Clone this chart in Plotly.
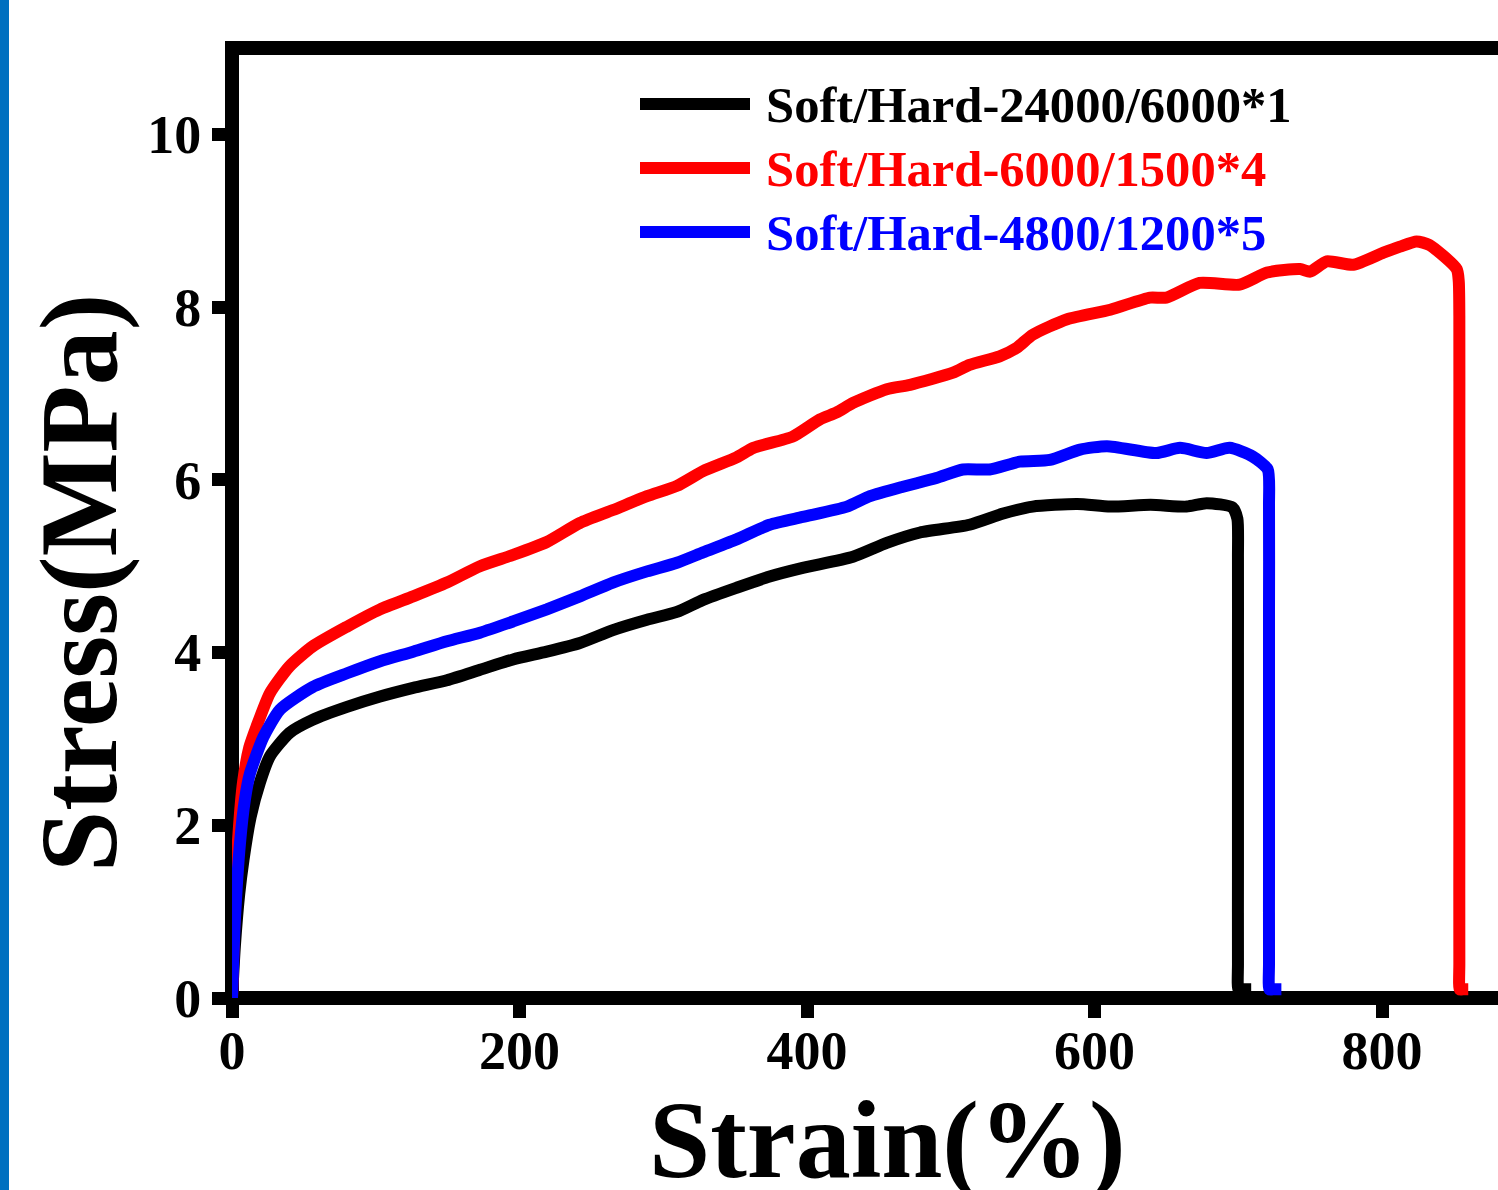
import plotly.graph_objects as go

# Tensile curves: strain (%) vs. stress (MPa)
strain_a = [0, 2, 5, 8, 13, 19.5, 26.4, 40, 56, 80, 103, 126, 149.5, 172.5, 195.5,
            219, 242, 265, 288.7, 309.5, 327.7, 351, 374, 397, 432, 455.5, 478.6,
            513, 536.5, 557, 588, 611, 639, 664, 678, 696, 699.4, 699.8, 699.8,
            699.8, 699.8, 700.1, 702, 709]
stress_a = [0, 0.6, 1.2, 1.6, 2.1, 2.5, 2.8, 3.07, 3.22, 3.37, 3.49, 3.59, 3.68,
            3.8, 3.92, 4.01, 4.11, 4.26, 4.38, 4.47, 4.61, 4.75, 4.88, 4.98, 5.11,
            5.27, 5.39, 5.48, 5.61, 5.69, 5.72, 5.69, 5.71, 5.69, 5.73, 5.68, 5.55,
            5.1, 4.0, 1.5, 0.4, 0.1, 0.1, 0.1]

strain_b = [0, 2, 4.5, 7.7, 12, 17, 26.4, 40, 56, 80, 103, 126, 149.5, 172.5, 195.5,
            219, 242, 265, 288.7, 309.5, 327.7, 351, 362.7, 390, 409, 420.6, 432,
            455.5, 471.7, 501.6, 513, 534, 546, 557, 581, 611, 638.6, 650, 673, 701,
            720, 743, 750, 761.6, 780, 801, 812.5, 824, 833, 852, 853.4, 853.8,
            853.8, 853.8, 853.8, 854.1, 856, 860]
stress_b = [0, 1.1, 1.9, 2.5, 2.9, 3.14, 3.53, 3.84, 4.07, 4.3, 4.5, 4.65, 4.81, 5.0,
            5.13, 5.28, 5.5, 5.65, 5.81, 5.93, 6.1, 6.26, 6.37, 6.5, 6.7, 6.78, 6.89,
            7.05, 7.1, 7.24, 7.33, 7.43, 7.53, 7.68, 7.86, 7.97, 8.11, 8.11, 8.28,
            8.26, 8.4, 8.44, 8.41, 8.53, 8.49, 8.63, 8.7, 8.76, 8.72, 8.44, 8.3,
            7.9, 6.5, 2.0, 0.4, 0.1, 0.1, 0.1]

strain_c = [0, 2, 5.6, 9, 12.5, 21.8, 33.4, 56, 80, 103, 126, 149.5, 172.5, 195.5,
            219, 242, 265, 288.7, 309.5, 327.7, 351, 374, 397, 427.8, 443.8, 466.8,
            490, 508.5, 527, 548, 569, 590, 608.7, 643, 659.5, 678, 694, 710, 720.5,
            721.4, 721.4, 721.4, 721.4, 721.7, 724, 730]
stress_c = [0, 0.9, 1.8, 2.3, 2.6, 3.02, 3.34, 3.6, 3.76, 3.9, 4.01, 4.13, 4.23,
            4.36, 4.5, 4.65, 4.81, 4.94, 5.04, 5.16, 5.31, 5.48, 5.57, 5.69, 5.81,
            5.92, 6.02, 6.12, 6.12, 6.21, 6.23, 6.35, 6.39, 6.31, 6.37, 6.31, 6.37,
            6.27, 6.12, 5.7, 4.5, 1.5, 0.4, 0.1, 0.1, 0.1]

series_names = ["Soft/Hard-24000/6000*1", "Soft/Hard-6000/1500*4", "Soft/Hard-4800/1200*5"]
series_colors = ["#000000", "#FF0000", "#0000FF"]

x_ticks = [0, 200, 400, 600, 800]
y_ticks = [0, 2, 4, 6, 8, 10]

FONT = "Liberation Serif"
W, H = 1498, 1190
ML, MR, MT, MB = 232, 0, 48, 192
PW, PH = W - ML - MR, H - MT - MB


def px_x(p):
    return (p - ML) / PW


def px_y(p):
    return (H - MB - p) / PH


fig = go.Figure()
for xs, ys, name, col in zip([strain_a, strain_b, strain_c],
                             [stress_a, stress_b, stress_c],
                             series_names, series_colors):
    fig.add_trace(go.Scatter(x=xs, y=ys, mode="lines", name=name,
                             line=dict(color=col, width=12, shape="spline",
                                       smoothing=0.6),
                             showlegend=False))

lw = 14
hx = (lw / 2) / PW
hy = (lw / 2) / PH
shapes = [
    # frame: left, bottom, top
    dict(type="line", xref="paper", yref="paper", x0=0, x1=0, y0=-hy, y1=1 + hy,
         line=dict(color="black", width=lw), layer="below"),
    dict(type="line", xref="paper", yref="paper", x0=-hx, x1=1, y0=0, y1=0,
         line=dict(color="black", width=lw), layer="below"),
    dict(type="line", xref="paper", yref="paper", x0=0, x1=1, y0=1, y1=1,
         line=dict(color="black", width=lw), layer="below"),
    # side stripe
    dict(type="rect", xref="paper", yref="paper", x0=px_x(0), x1=px_x(9),
         y0=px_y(H), y1=px_y(0), fillcolor="#0070C0", line=dict(width=0),
         layer="below"),
]

annotations = []
legend_rows = [104, 168, 232]
for row, name, col in zip(legend_rows, series_names, series_colors):
    shapes.append(dict(type="line", xref="paper", yref="paper",
                       x0=px_x(640), x1=px_x(750), y0=px_y(row), y1=px_y(row),
                       line=dict(color=col, width=12)))
    annotations.append(dict(text=name, xref="paper", yref="paper",
                            x=px_x(764), y=px_y(row + 1), xanchor="left",
                            yanchor="middle", showarrow=False,
                            font=dict(family=FONT, size=50.6, color=col,
                                      weight="bold")))

annotations.append(dict(text="Strain(%)", xref="paper", yref="paper",
                        x=px_x(887), y=px_y(1140), xanchor="center",
                        yanchor="middle", showarrow=False,
                        font=dict(family=FONT, size=110, color="black",
                                  weight="bold")))
annotations.append(dict(text="Stress(MPa)", xref="paper", yref="paper",
                        x=px_x(79), y=px_y(583), xanchor="center",
                        yanchor="middle", textangle=-90, showarrow=False,
                        font=dict(family=FONT, size=110, color="black",
                                  weight="bold")))

axis_common = dict(showgrid=False, zeroline=False, showline=False,
                   ticks="outside", ticklen=19, tickwidth=13, tickcolor="black",
                   tickfont=dict(family=FONT, size=54, color="black",
                                 weight="bold"))

fig.update_layout(
    width=W, height=H,
    margin=dict(l=ML, r=MR, t=MT, b=MB),
    paper_bgcolor="white", plot_bgcolor="white",
    xaxis=dict(range=[0, PW / 1.4375], tickvals=x_ticks, ticklabelstandoff=-14,
               **axis_common),
    yaxis=dict(range=[0, 11], tickvals=y_ticks, **axis_common),
    shapes=shapes, annotations=annotations,
)

fig.write_html("out.html")
